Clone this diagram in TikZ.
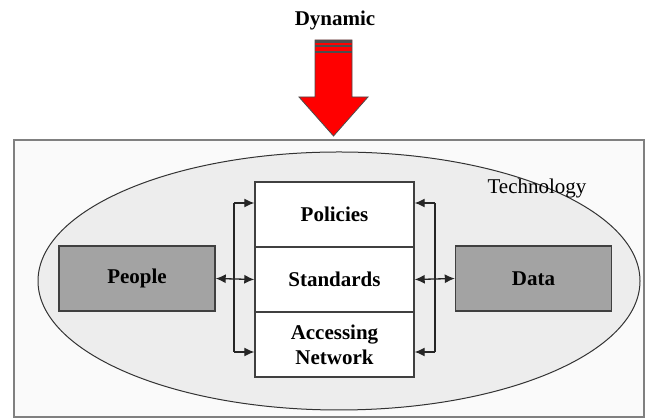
\documentclass[tikz,border=0pt]{standalone}
\usepackage{fontspec}
\setmainfont{Liberation Serif}
\usetikzlibrary{arrows.meta}
\definecolor{cloud}{HTML}{EDEDED}
\definecolor{actorgray}{HTML}{A3A3A3}
\tikzset{
    txt/.style={font=\fontsize{21}{25}\selectfont\bfseries},
    block/.style={txt, draw=black!75, line width=1.4pt, fill=white,
        minimum width=159pt, minimum height=65pt, inner sep=0pt, align=center},
    actor/.style={txt, draw=black!75, line width=1.4pt, fill=actorgray,
        minimum width=156pt, minimum height=65pt, inner sep=0pt},
    link/.style={draw=black!85, line width=1.3pt},
    tip/.style={-{Latex[length=10pt,width=9pt]}},
    tips/.style={{Latex[length=10pt,width=9pt]}-{Latex[length=10pt,width=9pt]}}
}
\begin{document}
\begin{tikzpicture}[x=1pt, y=1pt]
    \useasboundingbox [fill=white] (0,0) rectangle (645,419);
    \def\cx{334.5}
    \def\bx{234}
    \def\dx{435}
    % frame and technology ellipse
    \draw [draw=black!50, line width=1.2pt, fill=white!98!black] (14,2) rectangle (644,279);
    \draw [draw=black!80, line width=1pt, fill=cloud] (339,138) ellipse (301 and 129);
    \node [font=\fontsize{21}{25}\selectfont] (tech) at (537,231) {Technology};
    % dynamic arrow
    \node [txt] (dyn) at (335,399) {Dynamic};
    \draw [draw=black!70, line width=0.8pt, fill=red]
        (315,379) -- (352,379) -- (352,322) -- (368,322) -- (333.5,283)
        -- (299,322) -- (315,322) -- cycle;
    \foreach \y in {377.5,373,367}
        \draw [draw=black!70, line width=2.4pt] (315,\y) -- (352,\y);
    % middle stack
    \node [block] (pol) at (\cx,204.5) {Policies};
    \node [block] (std) at (\cx,139.5) {Standards};
    \node [block] (acc) at (\cx,74.5) {Accessing\\Network};
    \node [actor] (people) at (137,140.5) {People};
    \node [actor] (data) at (533.5,140.5) {Data};
    % left bracket
    \coordinate (lt) at (\bx,216);
    \coordinate (lb) at (\bx,67);
    \draw [link] (lt) -- (lb);
    \draw [link, tip] (lt) -- (lt -| pol.west);
    \draw [link, tip] (lb) -- (lb -| acc.west);
    \draw [link, tips] (people.east) -- (std.west);
    % right bracket
    \coordinate (rt) at (\dx,216);
    \coordinate (rb) at (\dx,67);
    \draw [link] (rt) -- (rb);
    \draw [link, tip] (rt) -- (rt -| pol.east);
    \draw [link, tip] (rb) -- (rb -| acc.east);
    \draw [link, tips] (std.east) -- (data.west);
\end{tikzpicture}
\end{document}
